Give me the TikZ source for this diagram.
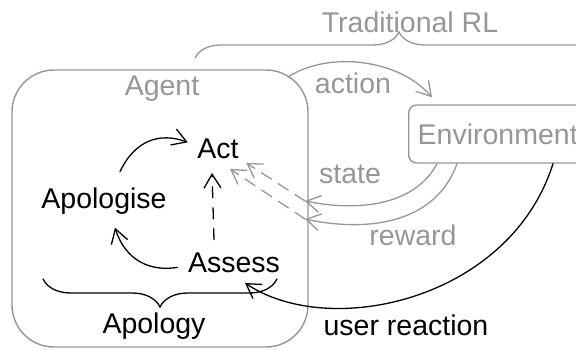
\documentclass[tikz,border=0pt]{standalone}
\usepackage{fontspec}
\setmainfont{Liberation Sans}
\usetikzlibrary{arrows.meta,decorations.pathreplacing}
\definecolor{rlgrey}{RGB}{150,150,150}
\tikzset{
  barb/.style={-{Straight Barb[length=14pt,width=17pt]}},
  box/.style={draw=rlgrey, line width=1.4pt},
  word/.style={anchor=base, inner sep=0pt},
  greyline/.style={rlgrey, line width=1.3pt},
  brc/.style={decorate, decoration={brace, amplitude=#1}},
}
\begin{document}
\begin{tikzpicture}[x=1pt, y=-1pt, line width=1.3pt, line cap=round,
    font=\fontsize{28.5pt}{34pt}\selectfont]
  \useasboundingbox (0,0) rectangle (576,349);
  \clip (0,0) rectangle (576,349);
  % agent and environment
  \node[box, rounded corners=42pt, minimum width=296pt, minimum height=277pt] (agent) at (160,208.5) {};
  \node[box, rounded corners=8pt, anchor=west, minimum height=58pt, inner xsep=9pt, text=rlgrey] (env) at (408,134) {Environment};
  \node[word, text=rlgrey] (agentlbl) at (162,95) {Agent};
  % inner loop
  \node[word] (act) at (218,158) {Act};
  \node[word] (apologise) at (104,208) {Apologise};
  \node[word] (assess) at (234,272) {Assess};
  \node[word] (apology) at (154,333) {Apology};
  % edge labels
  \node[word, text=rlgrey] (trl) at (410,32) {Traditional RL};
  \node[word, text=rlgrey] (actionlbl) at (353,93) {action};
  \node[word, text=rlgrey] (statelbl) at (350,183) {state};
  \node[word, text=rlgrey] (rewardlbl) at (413,245) {reward};
  \node[word] (userlbl) at (406,335) {user reaction};
  % braces
  \draw[greyline, brc=26pt] (195,58) -- (603,58);
  \draw[brc=28pt, decoration={mirror}] (43,279) -- (277,279);
  % traditional RL loop
  \coordinate (actout) at (288,77);
  \coordinate (stateend) at (305,201);
  \coordinate (rewardend) at (305,219);
  \draw[greyline, barb] (actout) .. controls (330,50) and (400,60) .. ([shift={(24,-7)}]env.north west);
  \draw[greyline, barb] ([xshift=29pt]env.south west) .. controls (415,205) and (360,212) .. (stateend);
  \draw[greyline, barb] ([xshift=49pt]env.south west) .. controls (435,225) and (365,232) .. (rewardend);
  \draw[greyline, barb, dash pattern=on 12pt off 8pt] (stateend) -- ([shift={(7,4)}]act.south east);
  \draw[greyline, barb, dash pattern=on 12pt off 8pt] (rewardend) -- ([shift={(12,10)}]act.south);
  % apology loop
  \draw[barb] ([shift={(16,-15)}]apologise.north) .. controls (135,140) and (160,132) .. ([shift={(-9,-6)}]act.west);
  \draw[barb] ([shift={(-10,5)}]assess.west) .. controls (150,272) and (125,260) .. ([shift={(11,13)}]apologise.south);
  \draw[barb, dash pattern=on 11pt off 10pt] ([shift={(-20,-12)}]assess.north) -- ([shift={(-6,14)}]act.south);
  \draw[barb] ([xshift=145pt]env.south west) .. controls (510,300) and (330,340) .. ([shift={(11,11)}]assess.base);
\end{tikzpicture}
\end{document}
